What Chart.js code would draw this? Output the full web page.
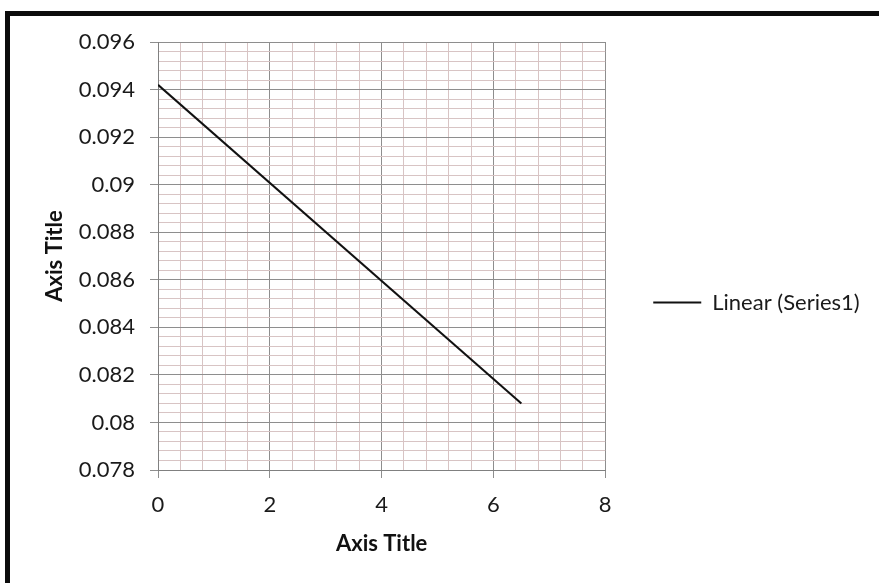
<!DOCTYPE html>
<html>
<head>
<meta charset="utf-8">
<title>Linear (Series1)</title>
<script src="https://cdn.jsdelivr.net/npm/chart.js@4.4.1/dist/chart.umd.min.js"></script>
<style>
  html, body { margin: 0; padding: 0; background: #ffffff; }
  #wrap { width: 879px; height: 583px; position: relative; }
</style>
</head>
<body>
<div id="wrap"><canvas id="chart" width="879" height="583"></canvas></div>
<script>
// Series values (end points of the linear trend line)
const xValues = [0, 6.5];
const yValues = [0.0942, 0.0808];
const seriesName = 'Linear (Series1)';

// Labelled (major) tick values on each axis
const xTickLabels = [0, 2, 4, 6, 8];
const yTickLabels = [0.078, 0.08, 0.082, 0.084, 0.086, 0.088, 0.09, 0.092, 0.094, 0.096];

const axisTitleX = 'Axis Title';
const axisTitleY = 'Axis Title';

const FONT = 'Lato, "Open Sans", sans-serif';
const MAJOR_GRID = '#8e8e8e';
const MINOR_GRID = '#d8c4c4';

function isMajor(value, list) {
  return list.some(v => Math.abs(v - value) < 1e-9);
}

// Heavy frame along the top and left edges of the picture
const framePlugin = {
  id: 'frame',
  afterDraw(chart) {
    const ctx = chart.ctx;
    ctx.save();
    ctx.strokeStyle = '#0c0c0c';
    ctx.lineWidth = 5;
    ctx.beginPath();
    ctx.moveTo(7.5, chart.height);
    ctx.lineTo(7.5, 13.5);
    ctx.lineTo(chart.width, 13.5);
    ctx.stroke();
    ctx.restore();
  }
};

// Let the legend text run to the canvas edge instead of being clipped to its box
const legendRoomPlugin = {
  id: 'legendRoom',
  afterLayout(chart) {
    const lg = chart.legend;
    if (lg) {
      lg.right = chart.width;
      lg.width = chart.width - lg.left;
    }
  }
};

const points = xValues.map((x, i) => ({ x: x, y: yValues[i] }));

new Chart(document.getElementById('chart'), {
  type: 'line',
  data: {
    datasets: [{
      label: seriesName,
      data: points,
      borderColor: '#111111',
      backgroundColor: '#111111',
      borderWidth: 2,
      pointRadius: 0,
      pointStyle: 'line',
      tension: 0,
      fill: false
    }]
  },
  options: {
    responsive: false,
    animation: false,
    events: [],
    layout: { padding: { left: 0, top: 42, right: 72, bottom: 20 } },
    plugins: {
      tooltip: { enabled: false },
      legend: {
        position: 'right',
        labels: {
          usePointStyle: true,
          pointStyleWidth: 48,
          padding: 48,
          color: '#1a1a1a',
          font: { family: FONT, size: 22 }
        }
      }
    },
    scales: {
      x: {
        type: 'linear',
        min: 0,
        max: 8,
        afterFit(scale) { scale.height = 93; },
        ticks: {
          stepSize: 0.4,
          autoSkip: false,
          maxRotation: 0,
          padding: 14,
          color: '#1a1a1a',
          font: { family: FONT, size: 22 },
          callback: v => isMajor(v, xTickLabels) ? String(Math.round(v)) : ''
        },
        grid: {
          color: c => isMajor(c.tick.value, xTickLabels) ? MAJOR_GRID : MINOR_GRID,
          tickColor: c => isMajor(c.tick.value, xTickLabels) ? MAJOR_GRID : 'rgba(0,0,0,0)',
          tickLength: 8,
          lineWidth: 1
        },
        border: { color: '#808080', width: 1 },
        title: {
          display: true,
          text: axisTitleX,
          color: '#111111',
          font: { family: FONT, size: 22, weight: 'bold' },
          padding: { top: 0, bottom: 6 }
        }
      },
      y: {
        type: 'linear',
        min: 0.078,
        max: 0.096,
        afterFit(scale) { scale.width = 158; },
        ticks: {
          stepSize: 0.0004,
          autoSkip: false,
          padding: 15,
          color: '#1a1a1a',
          font: { family: FONT, size: 22 },
          callback: v => isMajor(v, yTickLabels) ? String(Math.round(v * 1000) / 1000) : ''
        },
        grid: {
          color: c => isMajor(c.tick.value, yTickLabels) ? MAJOR_GRID : MINOR_GRID,
          tickColor: c => isMajor(c.tick.value, yTickLabels) ? MAJOR_GRID : 'rgba(0,0,0,0)',
          tickLength: 8,
          lineWidth: 1
        },
        border: { color: '#808080', width: 1 },
        title: {
          display: true,
          text: axisTitleY,
          color: '#111111',
          font: { family: FONT, size: 22, weight: 'bold' },
          padding: { top: 42, bottom: 0 }
        }
      }
    }
  },
  plugins: [framePlugin, legendRoomPlugin]
});
</script>
</body>
</html>
